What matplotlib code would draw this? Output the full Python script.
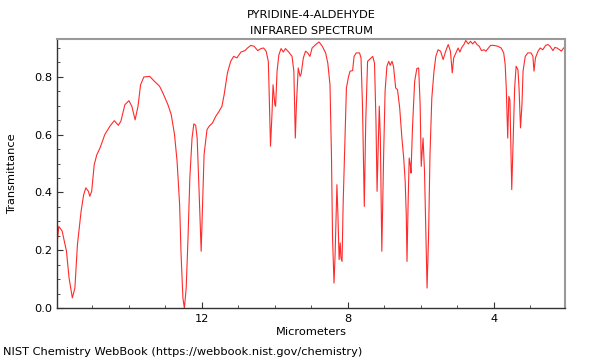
import numpy as np
import matplotlib
matplotlib.use("Agg")
import matplotlib.pyplot as plt
from matplotlib.ticker import MultipleLocator

FS = 8.2

# Spectrum: wavelength (micrometers) and transmittance
wavelength = [
    15.98, 15.92, 15.83, 15.71, 15.64, 15.55, 15.48, 15.41, 15.31, 15.24,
    15.18, 15.11, 15.07, 15.02, 14.95, 14.88, 14.79, 14.66, 14.52, 14.40,
    14.29, 14.22, 14.11, 14.00, 13.92, 13.83, 13.75, 13.68, 13.59, 13.43,
    13.30, 13.16, 13.07, 12.93, 12.84, 12.75, 12.68, 12.61, 12.57, 12.52,
    12.48, 12.43, 12.38, 12.33, 12.27, 12.22, 12.17, 12.13, 12.08, 12.02,
    11.98, 11.94, 11.86, 11.80, 11.71, 11.62, 11.53, 11.45, 11.39, 11.30,
    11.21, 11.13, 11.04, 10.93, 10.82, 10.75, 10.66, 10.57, 10.47, 10.38,
    10.31, 10.24, 10.18, 10.16, 10.12, 10.08, 10.05, 10.00, 9.98, 9.94,
    9.89, 9.83, 9.77, 9.71, 9.62, 9.53, 9.48, 9.44, 9.41, 9.36,
    9.31, 9.28, 9.22, 9.16, 9.10, 9.04, 8.98, 8.88, 8.79, 8.70,
    8.61, 8.55, 8.49, 8.45, 8.42, 8.38, 8.35, 8.30, 8.27, 8.24,
    8.21, 8.19, 8.16, 8.13, 8.08, 8.04, 7.98, 7.94, 7.87, 7.83,
    7.77, 7.68, 7.64, 7.60, 7.55, 7.51, 7.46, 7.41, 7.32, 7.27,
    7.23, 7.20, 7.14, 7.11, 7.07, 7.02, 6.98, 6.93, 6.88, 6.84,
    6.79, 6.75, 6.69, 6.64, 6.58, 6.52, 6.47, 6.43, 6.40, 6.38,
    6.35, 6.32, 6.29, 6.27, 6.23, 6.17, 6.11, 6.06, 6.02, 5.99,
    5.94, 5.90, 5.86, 5.83, 5.79, 5.75, 5.70, 5.64, 5.59, 5.53,
    5.46, 5.39, 5.32, 5.25, 5.19, 5.14, 5.10, 5.04, 4.98, 4.93,
    4.88, 4.82, 4.77, 4.70, 4.64, 4.58, 4.52, 4.46, 4.40, 4.34,
    4.27, 4.22, 4.16, 4.09, 4.00, 3.89, 3.80, 3.73, 3.69, 3.66,
    3.62, 3.59, 3.56, 3.53, 3.51, 3.47, 3.43, 3.39, 3.34, 3.31,
    3.27, 3.23, 3.20, 3.14, 3.07, 2.98, 2.93, 2.90, 2.86, 2.79,
    2.73, 2.66, 2.58, 2.52, 2.46, 2.38, 2.33, 2.27, 2.20, 2.15,
    2.09, 2.05,
]
transmittance = [
    0.208, 0.283, 0.267, 0.197, 0.105, 0.036, 0.070, 0.220, 0.335, 0.392,
    0.416, 0.404, 0.387, 0.404, 0.496, 0.530, 0.554, 0.600, 0.629, 0.648,
    0.632, 0.646, 0.703, 0.717, 0.698, 0.651, 0.698, 0.772, 0.799, 0.801,
    0.784, 0.767, 0.744, 0.703, 0.669, 0.600, 0.508, 0.358, 0.185, 0.036,
    0.000, 0.070, 0.243, 0.450, 0.588, 0.637, 0.632, 0.588, 0.416, 0.197,
    0.358, 0.531, 0.617, 0.629, 0.640, 0.663, 0.680, 0.698, 0.738, 0.813,
    0.853, 0.870, 0.865, 0.885, 0.890, 0.899, 0.908, 0.905, 0.890, 0.897,
    0.899, 0.888, 0.853, 0.761, 0.560, 0.669, 0.772, 0.703, 0.698, 0.819,
    0.876, 0.897, 0.885, 0.897, 0.885, 0.870, 0.819, 0.588, 0.703, 0.830,
    0.801, 0.810, 0.865, 0.888, 0.882, 0.870, 0.899, 0.911, 0.920, 0.905,
    0.882, 0.847, 0.772, 0.531, 0.243, 0.087, 0.185, 0.427, 0.312, 0.168,
    0.226, 0.174, 0.162, 0.358, 0.588, 0.761, 0.801, 0.819, 0.821, 0.870,
    0.882, 0.882, 0.865, 0.703, 0.352, 0.646, 0.853, 0.859, 0.870, 0.847,
    0.646, 0.404, 0.698, 0.588, 0.197, 0.531, 0.750, 0.836, 0.853, 0.839,
    0.853, 0.836, 0.761, 0.755, 0.692, 0.588, 0.519, 0.439, 0.323, 0.162,
    0.358, 0.519, 0.496, 0.467, 0.623, 0.784, 0.828, 0.830, 0.703, 0.490,
    0.588, 0.473, 0.243, 0.070, 0.243, 0.531, 0.726, 0.819, 0.870, 0.893,
    0.888, 0.859, 0.888, 0.911, 0.888, 0.813, 0.865, 0.882, 0.899, 0.885,
    0.901, 0.911, 0.925, 0.913, 0.922, 0.913, 0.922, 0.911, 0.905, 0.890,
    0.893, 0.888, 0.897, 0.908, 0.908, 0.905, 0.899, 0.882, 0.842, 0.761,
    0.588, 0.732, 0.720, 0.531, 0.410, 0.588, 0.761, 0.836, 0.824, 0.761,
    0.623, 0.703, 0.819, 0.870, 0.882, 0.882, 0.870, 0.819, 0.865, 0.888,
    0.899, 0.893, 0.908, 0.911, 0.905, 0.890, 0.901, 0.899, 0.893, 0.888,
    0.899, 0.901,
]

x_major = [12, 8, 4]

fig = plt.figure(figsize=(6.0, 3.6), dpi=100)
ax = fig.add_axes([0.095, 0.1436, 0.8467, 0.7472])

ax.plot(wavelength, transmittance, color='#ff2a2a', lw=0.8)

ax.set_xlim(15.97, 2.05)
ax.set_ylim(0, 0.929)
ax.set_xticks(x_major)
ax.xaxis.set_minor_locator(MultipleLocator(1))
ax.yaxis.set_major_locator(MultipleLocator(0.2))
ax.yaxis.set_minor_locator(MultipleLocator(0.05))
ax.yaxis.set_major_formatter(matplotlib.ticker.FormatStrFormatter('%.1f'))

ax.tick_params(which='both', direction='in', labelsize=FS, color='#333333')
ax.tick_params(which='major', length=4)
ax.tick_params(which='minor', length=2)
ax.tick_params(axis='x', pad=4)

for side in ['top', 'right']:
    ax.spines[side].set_color('#999999')
    ax.spines[side].set_linewidth(1.5)
for side in ['left', 'bottom']:
    ax.spines[side].set_color('#333333')
    ax.spines[side].set_linewidth(1.0)

ax.set_xlabel("Micrometers", fontsize=FS, labelpad=2)
ax.set_ylabel("Transmittance", fontsize=FS, labelpad=12)
ax.set_title("PYRIDINE-4-ALDEHYDE\nINFRARED SPECTRUM", fontsize=FS, pad=4,
             linespacing=1.75)

fig.text(0.005, 0.008, "NIST Chemistry WebBook (https://webbook.nist.gov/chemistry)",
         fontsize=FS, ha='left', va='bottom')

fig.savefig("out.png", dpi=100)
